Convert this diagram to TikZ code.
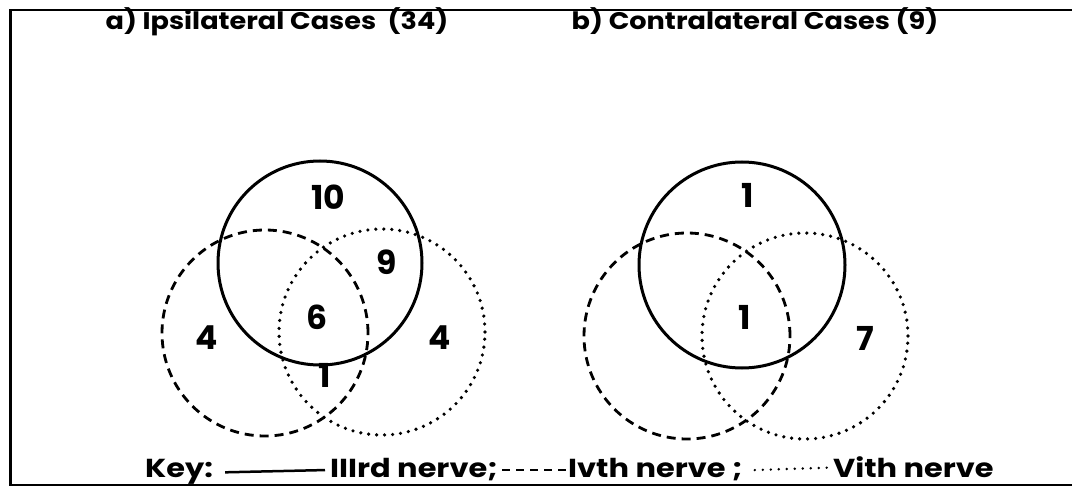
\documentclass[tikz,border=0pt]{standalone}
\usepackage{fontspec}
\setmainfont{Poppins}
\newfontfamily\headfont[FakeStretch=1.13]{Poppins}
\newfontfamily\keyfont[FakeStretch=1.17]{Poppins}
\tikzset{
  nerveIII/.style={line width=3pt},
  nerveIV/.style={line width=2.8pt,dash pattern=on 9pt off 6pt},
  nerveVI/.style={line width=3.6pt,line cap=round,dash pattern=on 0pt off 8pt},
  count/.style={font=\fontsize{33}{33}\selectfont\bfseries,inner sep=0pt},
  heading/.style={font=\headfont\fontsize{24}{24}\selectfont\bfseries,inner sep=0pt,anchor=base},
  keytext/.style={font=\keyfont\fontsize{26}{26}\selectfont\bfseries,inner sep=0pt,anchor=base west}
}
\begin{document}
\begin{tikzpicture}[x=1pt,y=-1pt]
\useasboundingbox (0,0) rectangle (1072,487);
% frame, open on the right
\draw[line width=2.5pt] (1072,10) -- (10.5,10) -- (10.5,485) -- (1072,485);
% headings
\node[heading] (ipsi) at (277,30) {a) Ipsilateral Cases\ \ (34)};
\node[heading] (contra) at (755,30) {b) Contralateral Cases (9)};
% a) ipsilateral
\draw[nerveIII] (320,263) circle[radius=102pt];
\draw[nerveIV] (265,333) circle[radius=103pt];
\draw[nerveVI] (382,332) circle[radius=103pt];
\node[count] (aIII) at (328,197) {10};
\node[count] (aIIIVI) at (387,262) {9};
\node[count] (aall) at (317,317) {6};
\node[count] (aIV) at (207,338) {4};
\node[count] (aVI) at (440,338) {4};
\node[count] (aIVVI) at (325,375) {1};
% b) contralateral
\draw[nerveIII] (742,265) circle[radius=103pt];
\draw[nerveIV] (687,336) circle[radius=103pt];
\draw[nerveVI] (805,336) circle[radius=103pt];
\node[count] (bIII) at (748,195) {1};
\node[count] (ball) at (745,317) {1};
\node[count] (bVI) at (865,338) {7};
% key
\node[keytext] (key) at (145,477) {Key:};
\node[keytext] (kIII) at (330,477) {IIIrd nerve;};
\node[keytext] (kIV) at (568,477) {Ivth nerve ;};
\node[keytext] (kVI) at (833,477) {Vith nerve};
\draw[nerveIII,line width=2.5pt] ([xshift=12pt,yshift=-1pt]key.east) -- ([xshift=-5pt,yshift=-1pt]kIII.west);
\draw[nerveIV,line width=2.2pt,dash pattern=on 8pt off 6pt] ([xshift=4pt,yshift=-1pt]kIII.east) -- ([yshift=-1pt]kIV.west);
\draw[nerveVI,line width=2.6pt] ([xshift=12pt,yshift=-1pt]kIV.east) -- ([xshift=-6pt,yshift=-1pt]kVI.west);
\end{tikzpicture}
\end{document}
